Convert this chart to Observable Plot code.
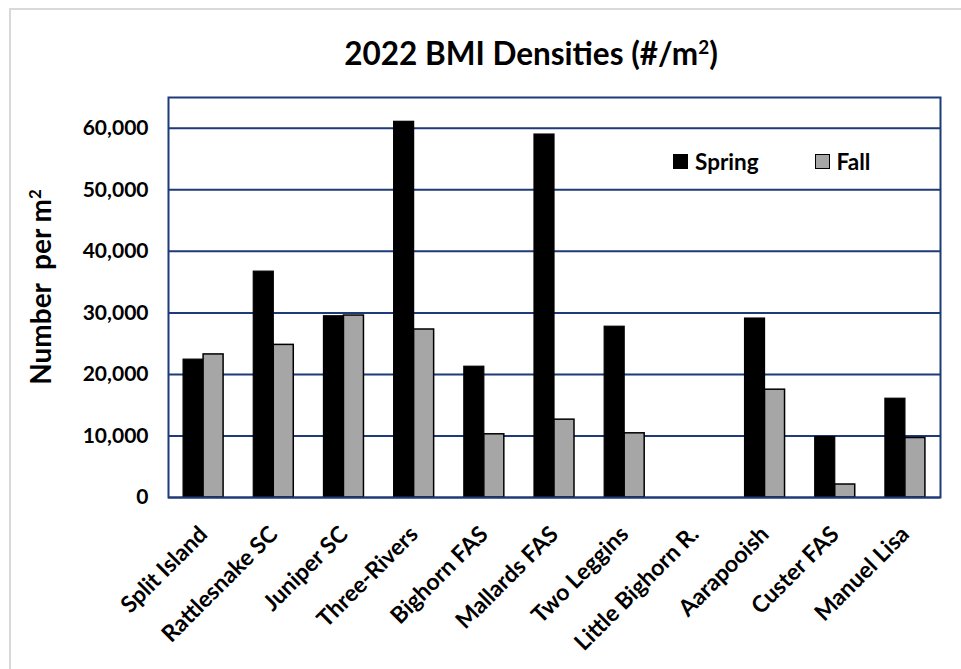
<!DOCTYPE html>
<html>
<head>
<meta charset="utf-8">
<script src="https://cdn.jsdelivr.net/npm/d3@7"></script>
<script src="https://cdn.jsdelivr.net/npm/@observablehq/plot@0.6"></script>
<style>
  body { margin: 0; background: #fff; font-family: Lato, "Open Sans", sans-serif; }
  #wrap { position: relative; width: 961px; height: 669px; overflow: hidden; background: #fff; }
  #border { position: absolute; left: 9px; top: 8px; width: 1200px; height: 1200px; border: 2px solid #d9d9d9; box-sizing: border-box; }
  #chart { position: absolute; left: 0; top: 0; }
  #title { position: absolute; top: 34px; left: 0; width: 1062px; text-align: center; font-weight: bold; font-size: 31.5px; color: #000; }
  #ylabel { position: absolute; left: 40px; top: 287px; transform: translate(-50%, -50%) rotate(-90deg); white-space: pre; font-weight: bold; font-size: 28px; color: #000; }
  #legend { position: absolute; left: 673px; top: 148px; font-weight: bold; font-size: 22.5px; color: #000; display: flex; align-items: center; }
  .sw { display: inline-block; width: 15px; height: 15px; box-sizing: border-box; border: 1.5px solid #000; margin-right: 7px; }
  .item { display: flex; align-items: center; }
</style>
</head>
<body>
<div id="wrap">
  <div id="border"></div>
  <div id="chart"></div>
  <div id="title">2022 BMI Densities (#/m<sup style="font-size:0.6em">2</sup>)</div>
  <div id="ylabel">Number  per m<sup style="font-size:0.6em">2</sup></div>
  <div id="legend"></div>
</div>
<script>
const sites = ["Split Island", "Rattlesnake SC", "Juniper SC", "Three-Rivers", "Bighorn FAS", "Mallards FAS", "Two Leggins", "Little Bighorn R.", "Aarapooish", "Custer FAS", "Manuel Lisa"];
const spring = [22400, 36700, 29450, 61050, 21250, 58980, 27750, null, 29080, 9830, 16050];
const fall = [23250, 24800, 29570, 27300, 10270, 12650, 10430, null, 17520, 2110, 9670];
const seriesNames = ["Spring", "Fall"];
const seriesColors = ["#000000", "#a6a6a6"];
const yTicks = [0, 10000, 20000, 30000, 40000, 50000, 60000];
const yMax = 65000;

const data = sites.map((s, i) => ({site: s, spring: spring[i], fall: fall[i]}));
const navy = "#1f3a78";

const chart = Plot.plot({
  width: 961,
  height: 669,
  marginTop: 97,
  marginLeft: 168,
  marginRight: 21,
  marginBottom: 172,
  style: {fontFamily: "Lato, sans-serif", color: "#000", background: "transparent"},
  x: {domain: sites, paddingInner: 0.43, paddingOuter: 0.215, round: false},
  y: {domain: [0, yMax]},
  marks: [
    Plot.ruleY(yTicks, {stroke: navy, strokeWidth: 2}),
    Plot.barY(data, {x: "site", y: "spring", fill: seriesColors[0], stroke: "#000", strokeWidth: 1.2, insetRight: 20}),
    Plot.barY(data, {x: "site", y: "fall", fill: seriesColors[1], stroke: "#000", strokeWidth: 1.5, insetLeft: 20}),
    Plot.frame({stroke: navy, strokeWidth: 2}),
    Plot.axisY({ticks: yTicks, tickFormat: d3.format(","), tickSize: 0, tickPadding: 20, fontSize: 21, fontWeight: "bold", label: null}),
    Plot.axisX({tickSize: 0, tickRotate: -45, tickPadding: 33, fontSize: 23, fontWeight: "bold", label: null})
  ]
});
document.getElementById("chart").appendChild(chart);

const legend = document.getElementById("legend");
seriesNames.forEach((name, i) => {
  const item = document.createElement("span");
  item.className = "item";
  if (i > 0) item.style.marginLeft = "56px";
  const sw = document.createElement("span");
  sw.className = "sw";
  sw.style.background = seriesColors[i];
  item.appendChild(sw);
  item.appendChild(document.createTextNode(name));
  legend.appendChild(item);
});
</script>
</body>
</html>
